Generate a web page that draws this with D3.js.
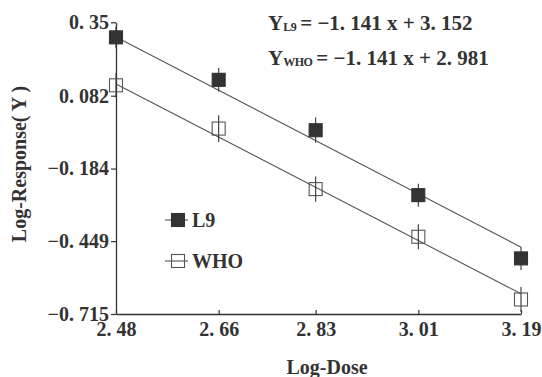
<!DOCTYPE html>
<html>
<head>
<meta charset="utf-8">
<script src="https://cdn.jsdelivr.net/npm/d3@7"></script>
<style>
  html, body { margin: 0; padding: 0; background: #fff; }
  svg { display: block; }
  text { font-family: "Liberation Serif", "DejaVu Serif", serif; font-weight: bold; fill: #333; }
</style>
</head>
<body>
<svg id="chart" width="542" height="377"></svg>
<script>
// ---- data ----
const doses = [2.48, 2.66, 2.83, 3.01, 3.19];
const l9Values = [0.295, 0.140, -0.044, -0.281, -0.512];
const whoValues = [0.120, -0.038, -0.259, -0.433, -0.662];
const l9Err = [0.040, 0.043, 0.046, 0.042, 0.042];
const whoErr = [0.045, 0.049, 0.046, 0.046, 0.046];
const fitX = [2.48, 3.19];
const fitL9 = [0.296, -0.471];
const fitWHO = [0.125, -0.641];
const yTicks = [0.35, 0.082, -0.184, -0.449, -0.715];
const yTickLabels = ["0. 35", "0. 082", "\u22120. 184", "\u22120. 449", "\u22120. 715"];
const xTicks = [2.48, 2.66, 2.83, 3.01, 3.19];
const xTickLabels = ["2. 48", "2. 66", "2. 83", "3. 01", "3. 19"];
const seriesNames = ["L9", "WHO"];

// ---- layout ----
const svg = d3.select("#chart");
const x = d3.scaleLinear().domain([2.48, 3.19]).range([116, 521]);
const y = d3.scaleLinear().domain([-0.715, 0.35]).range([314, 22.3]);
const ink = "#333";
const lineInk = "#555";

// axes
const yAxis = d3.axisLeft(y).tickValues(yTicks)
  .tickFormat((d, i) => yTickLabels[i]).tickSizeInner(5).tickSizeOuter(0).tickPadding(2);
const gy = svg.append("g").attr("transform", `translate(${x.range()[0]},0)`).call(yAxis);
gy.select(".domain").attr("stroke", ink).attr("stroke-width", 1.3);
gy.selectAll(".tick line").attr("stroke", ink).attr("stroke-width", 1.2);
gy.selectAll(".tick text").attr("font-size", 20).attr("fill", ink)
  .attr("font-family", "Liberation Serif").attr("font-weight", "bold");

const xAxis = d3.axisBottom(x).tickValues(xTicks)
  .tickFormat((d, i) => xTickLabels[i]).tickSizeInner(-4).tickSizeOuter(0).tickPadding(8);
const gx = svg.append("g").attr("transform", `translate(0,${y.range()[0]})`).call(xAxis);
gx.select(".domain").attr("stroke", ink).attr("stroke-width", 1.3);
gx.selectAll(".tick line").attr("stroke", ink).attr("stroke-width", 1.2);
gx.selectAll(".tick text").attr("font-size", 20).attr("fill", ink)
  .attr("font-family", "Liberation Serif").attr("font-weight", "bold");

// axis titles
svg.append("text").attr("x", 327).attr("y", 374).attr("text-anchor", "middle")
  .attr("font-size", 20).text("Log-Dose");
svg.append("text").attr("transform", "translate(26,164) rotate(-90)")
  .attr("text-anchor", "middle").attr("font-size", 20).text("Log-Response( Y )");

// fit lines
const line = d3.line().x(d => x(d[0])).y(d => y(d[1]));
[fitL9, fitWHO].forEach(f => {
  svg.append("path").datum(fitX.map((v, i) => [v, f[i]]))
    .attr("d", line).attr("fill", "none").attr("stroke", lineInk).attr("stroke-width", 1.1);
});

// error bars and markers
const ms = 13;
function drawSeries(vals, errs, filled) {
  const g = svg.append("g");
  g.selectAll("line.err").data(doses).join("line")
    .attr("x1", d => x(d)).attr("x2", d => x(d))
    .attr("y1", (d, i) => y(vals[i] + errs[i])).attr("y2", (d, i) => y(vals[i] - errs[i]))
    .attr("stroke", ink).attr("stroke-width", 1.1);
  g.selectAll("rect").data(doses).join("rect")
    .attr("x", d => x(d) - ms / 2).attr("y", (d, i) => y(vals[i]) - ms / 2)
    .attr("width", ms).attr("height", ms)
    .attr("fill", filled ? "#333" : "none").attr("stroke", filled ? "#333" : "#555").attr("stroke-width", 1.1);
}
drawSeries(l9Values, l9Err, true);
drawSeries(whoValues, whoErr, false);

// legend
const legendY = [220, 261];
seriesNames.forEach((name, i) => {
  const ly = legendY[i];
  svg.append("line").attr("x1", 165).attr("x2", 188).attr("y1", ly).attr("y2", ly)
    .attr("stroke", lineInk).attr("stroke-width", 1.1);
  svg.append("rect").attr("x", 178 - ms / 2).attr("y", ly - ms / 2).attr("width", ms).attr("height", ms)
    .attr("fill", i === 0 ? "#333" : "none").attr("stroke", i === 0 ? "#333" : "#555").attr("stroke-width", 1.1);
  svg.append("text").attr("x", 192).attr("y", ly + 7).attr("font-size", 20).text(name);
});

// equations
const eqs = [["L9", "= \u22121. 141 x + 3. 152"], ["WHO", "= \u22121. 141 x + 2. 981"]];
const eqY = [30, 65];
eqs.forEach((e, i) => {
  const t = svg.append("text").attr("x", 268).attr("y", eqY[i]).attr("font-size", 21);
  t.append("tspan").text("Y");
  t.append("tspan").attr("font-size", 12).attr("dy", 1).attr("letter-spacing", -0.5).text(e[0]);
  t.append("tspan").attr("dy", -1).attr("dx", 4).text(e[1]);
});
</script>
</body>
</html>
